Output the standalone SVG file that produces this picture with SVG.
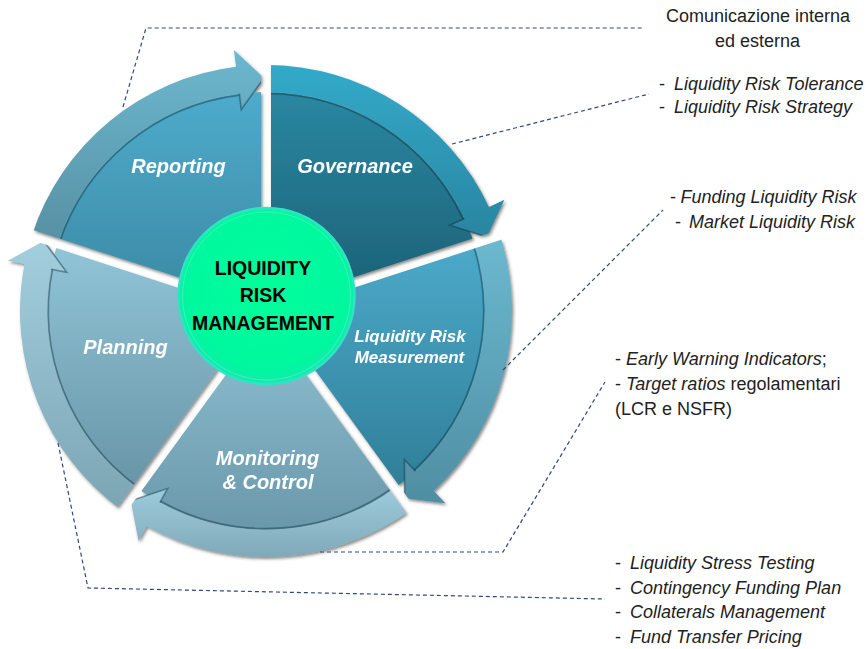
<svg xmlns="http://www.w3.org/2000/svg" width="867" height="649" viewBox="0 0 867 649">
<defs>
<style>
.seglabel{font-family:"Liberation Sans",Arial,sans-serif;font-weight:bold;font-style:italic;fill:#ffffff;text-anchor:middle}
.note{font-family:"Liberation Sans",Arial,sans-serif;font-size:18px;fill:#222222}
.it{font-style:italic}
.conn{fill:none;stroke:#2E4A7D;stroke-width:1.2;stroke-dasharray:4 3}
.crease{fill:none;stroke:#0B3443;stroke-opacity:0.45;stroke-width:1.6}
.center{font-family:"Liberation Sans",Arial,sans-serif;font-weight:bold;font-size:19.5px;fill:#000000;text-anchor:middle}
</style>
<linearGradient id="gGovW" x1="0" y1="0" x2="0" y2="1"><stop offset="0" stop-color="#2A87A1"/><stop offset="1" stop-color="#1B5E73"/></linearGradient>
<linearGradient id="gGovB" x1="0" y1="0" x2="0" y2="1"><stop offset="0" stop-color="#33AACA"/><stop offset="1" stop-color="#2985A0"/></linearGradient>
<linearGradient id="gRepW" x1="0" y1="0" x2="0" y2="1"><stop offset="0" stop-color="#4EABCB"/><stop offset="1" stop-color="#3A88A2"/></linearGradient>
<linearGradient id="gRepB" x1="0" y1="0" x2="0" y2="1"><stop offset="0" stop-color="#6CB8CF"/><stop offset="1" stop-color="#5790A3"/></linearGradient>
<linearGradient id="gMeaW" x1="0" y1="0" x2="0" y2="1"><stop offset="0" stop-color="#4CAACA"/><stop offset="1" stop-color="#2F7E97"/></linearGradient>
<linearGradient id="gMeaB" x1="0" y1="0" x2="0" y2="1"><stop offset="0" stop-color="#6CB9D0"/><stop offset="1" stop-color="#4F8EA3"/></linearGradient>
<linearGradient id="gMonW" x1="0" y1="0" x2="0" y2="1"><stop offset="0" stop-color="#8FC2D5"/><stop offset="1" stop-color="#6A98AA"/></linearGradient>
<linearGradient id="gMonB" x1="0" y1="0" x2="0" y2="1"><stop offset="0" stop-color="#9ECCDC"/><stop offset="1" stop-color="#7FA9B9"/></linearGradient>
<linearGradient id="gPlaW" x1="0" y1="0" x2="0" y2="1"><stop offset="0" stop-color="#91C5D8"/><stop offset="1" stop-color="#6895A6"/></linearGradient>
<linearGradient id="gPlaB" x1="0" y1="0" x2="0" y2="1"><stop offset="0" stop-color="#A2CEDE"/><stop offset="1" stop-color="#7CA5B4"/></linearGradient>
<radialGradient id="gCenter" cx="0.5" cy="0.45" r="0.55"><stop offset="0" stop-color="#00FF9A"/><stop offset="0.85" stop-color="#00F79E"/><stop offset="1" stop-color="#12EAB0"/></radialGradient>
<mask id="gaps" maskUnits="userSpaceOnUse" x="0" y="0" width="867" height="649">
<rect x="0" y="0" width="867" height="649" fill="#ffffff"/>
<g stroke="#000000" stroke-width="10">
<line x1="266" y1="311" x2="266" y2="0"/>
<line x1="266" y1="311" x2="570" y2="212.2"/>
<line x1="266" y1="311" x2="442.3" y2="553.7"/>
<line x1="266" y1="311" x2="89.7" y2="553.7"/>
<line x1="266" y1="311" x2="-38" y2="212.2"/>
</g>
</mask>
<filter id="shadow" x="-10%" y="-10%" width="120%" height="120%">
<feDropShadow dx="1.5" dy="2" stdDeviation="1.6" flood-color="#333333" flood-opacity="0.55"/>
</filter>
</defs>
<rect width="867" height="649" fill="#ffffff"/>

<g filter="url(#shadow)">
<g mask="url(#gaps)">
<g id="governance">
<path d="M266,311 L266,92 A219,219 0 0 1 474.28,243.32 Z" fill="url(#gGovW)"/>
<path class="crease" d="M266,93.5 A217.5,217.5 0 0 1 463.1,219.1"/>
<path d="M266,65 A246,246 0 0 1 488.95,207.04 L504.36,199.85 L486.96,237.07 L449.98,225.21 L464.48,218.45 A219,219 0 0 0 266,92 Z" fill="url(#gGovB)"/>
<path class="crease" d="M464.48,218.45 L449.98,225.21 L486.96,237.07"/>
<text class="seglabel" x="355" y="173" font-size="20">Governance</text>
</g>
<g id="measurement">
<path d="M266,311 L474.28,243.32 A219,219 0 0 1 394.73,488.18 Z" fill="url(#gMeaW)"/>
<path class="crease" d="M472.9,243.8 A217.5,217.5 0 0 1 414.3,470.1"/>
<path d="M499.96,234.98 A246,246 0 0 1 433.77,490.91 L445.37,503.35 L404.59,498.3 L404.45,459.46 L415.36,471.17 A219,219 0 0 0 474.28,243.32 Z" fill="url(#gMeaB)"/>
<path class="crease" d="M415.36,471.17 L404.45,459.46 L404.59,498.3"/>
<text class="seglabel" x="410" y="342" font-size="17">Liquidity Risk</text>
<text class="seglabel" x="409.5" y="363" font-size="17">Measurement</text>
</g>
<g id="monitoring">
<path d="M266,311 L394.73,488.18 A219,219 0 0 1 137.27,488.18 Z" fill="url(#gMonW)"/>
<path class="crease" d="M393.8,487 A217.5,217.5 0 0 1 160.6,501.3"/>
<path d="M410.6,510.02 A246,246 0 0 1 146.74,526.16 L138.5,541.02 L130.7,500.69 L167.58,488.55 L159.83,502.54 A219,219 0 0 0 394.73,488.18 Z" fill="url(#gMonB)"/>
<path class="crease" d="M159.83,502.54 L167.58,488.55 L130.7,500.69"/>
<text class="seglabel" x="267.5" y="465" font-size="20">Monitoring</text>
<text class="seglabel" x="268" y="489" font-size="20">&amp; Control</text>
</g>
<g id="planning">
<path d="M266,311 L137.27,488.18 A219,219 0 0 1 57.72,243.32 Z" fill="url(#gPlaW)"/>
<path class="crease" d="M138.1,487 A217.5,217.5 0 0 1 52.5,269"/>
<path d="M121.4,510.02 A246,246 0 0 1 24.52,264.06 L7.83,260.82 L43.78,240.93 L66.73,272.27 L51.02,269.21 A219,219 0 0 0 137.27,488.18 Z" fill="url(#gPlaB)"/>
<path class="crease" d="M51.02,269.21 L66.73,272.27 L43.78,240.93"/>
<text class="seglabel" x="125.5" y="354" font-size="20">Planning</text>
</g>
<g id="reporting">
<path d="M266,311 L57.72,243.32 A219,219 0 0 1 266,92 Z" fill="url(#gRepW)"/>
<path class="crease" d="M59.1,243.8 A217.5,217.5 0 0 1 239.5,95.1"/>
<path d="M32.04,234.98 A246,246 0 0 1 236.02,66.83 L233.95,49.96 L263.97,78.01 L241.26,109.51 L239.31,93.63 A219,219 0 0 0 57.72,243.32 Z" fill="url(#gRepB)"/>
<path class="crease" d="M239.31,93.63 L241.26,109.51 L263.97,78.01"/>
<text class="seglabel" x="178.5" y="173" font-size="20">Reporting</text>
</g>
</g>
</g>

<g id="center-node">
<circle cx="266.5" cy="296" r="88" fill="url(#gCenter)" stroke="#2FE3C4" stroke-width="2.5"/>
<circle cx="266.5" cy="296" r="84" fill="none" stroke="#6FF3CF" stroke-opacity="0.5" stroke-width="1"/>
<text class="center" x="263" y="275">LIQUIDITY</text>
<text class="center" x="263" y="302">RISK</text>
<text class="center" x="263" y="330">MANAGEMENT</text>
</g>

<g id="connectors">
<polyline class="conn" points="123,107 146,28 642,28"/>
<line class="conn" x1="452" y1="144" x2="649" y2="94"/>
<line class="conn" x1="503" y1="370" x2="663" y2="210"/>
<polyline class="conn" points="320,552 503,552 605,382"/>
<polyline class="conn" points="58,443 88,588 605,599"/>
</g>

<g id="note-reporting">
<text class="note" x="758" y="22" text-anchor="middle">Comunicazione interna</text>
<text class="note" x="757.5" y="47" text-anchor="middle">ed esterna</text>
</g>
<g id="note-governance">
<text class="note" x="659" y="89.5">-<tspan class="it" x="674">Liquidity Risk Tolerance</tspan></text>
<text class="note" x="659" y="112.5">-<tspan class="it" x="674">Liquidity Risk Strategy</tspan></text>
</g>
<g id="note-measurement">
<text class="note" x="670" y="203">-<tspan class="it" x="680.5">Funding Liquidity Risk</tspan></text>
<text class="note" x="675" y="228">-<tspan class="it" x="689">Market Liquidity Risk</tspan></text>
</g>
<g id="note-monitoring">
<text class="note" x="615" y="365">- <tspan class="it">Early Warning Indicators</tspan>;</text>
<text class="note" x="615" y="390">- <tspan class="it">Target ratios</tspan> regolamentari</text>
<text class="note" x="615" y="415">(LCR e NSFR)</text>
</g>
<g id="note-planning">
<text class="note" x="615" y="569">-<tspan class="it" x="630">Liquidity Stress Testing</tspan></text>
<text class="note" x="615" y="594">-<tspan class="it" x="630">Contingency Funding Plan</tspan></text>
<text class="note" x="615" y="618">-<tspan class="it" x="630">Collaterals Management</tspan></text>
<text class="note" x="615" y="643">-<tspan class="it" x="630">Fund Transfer Pricing</tspan></text>
</g>
</svg>
